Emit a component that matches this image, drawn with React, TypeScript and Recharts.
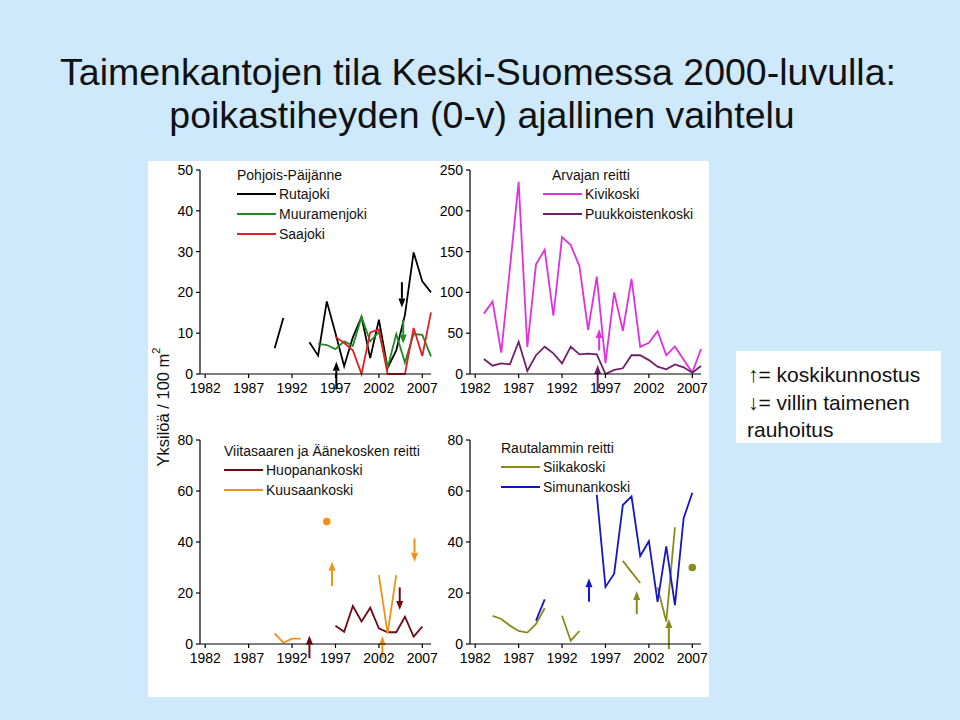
import React from 'react';
import { ComposedChart, Line, XAxis, YAxis, ReferenceLine } from 'recharts';

const FONT = '"Liberation Sans", Arial, Helvetica, sans-serif';

const years = [1982, 1983, 1984, 1985, 1986, 1987, 1988, 1989, 1990, 1991, 1992, 1993, 1994, 1995, 1996, 1997, 1998, 1999, 2000, 2001, 2002, 2003, 2004, 2005, 2006, 2007, 2008];
const yearTicks = [1982, 1987, 1992, 1997, 2002, 2007];

// Pohjois-Päijänne
const rutajoki = [null, null, null, null, null, null, null, null, 6.3, 13.7, null, null, 7.8, 4.5, 17.8, 10, 1.9, 9.0, 14.0, 3.9, 13.3, 1.5, 5.8, 14.5, 29.8, 22.7, 20.0];
const muuramenjoki = [null, null, null, null, null, null, null, null, null, null, null, null, null, 7.4, 7.1, 6.1, 8.0, 6.9, 14.0, 8.0, 10.3, 1.5, 9.8, 2.8, 9.8, 9.6, 4.3];
const saajoki = [null, null, null, null, null, null, null, null, null, null, null, null, null, null, null, 9.1, 7.6, 5.8, 0, 10.2, 10.9, 0, 0, 0, 11.3, 4.4, 15.1];

// Arvajan reitti
const kivikoski = [null, 74, 88.8, 26.3, 130, 235.5, 33, 134.3, 152.3, 71.4, 167.7, 158, 132.3, 54, 119.3, 13.3, 99.8, 53, 116.5, 33.3, 38.2, 52.4, 22.8, 33.8, 17.5, 1.8, 30.6];
const puukkoistenkoski = [null, 18.4, 10.2, 13, 11.8, 39.6, 3.7, 23, 33.5, 25.3, 13, 33.5, 24, 25, 24, 0, 5, 7, 23, 23, 17, 9, 5.7, 11.8, 8.2, 1.6, 9.8];

// Viitasaaren ja Äänekosken reitti
const huopanankoski = [null, null, null, null, null, null, null, null, null, null, null, null, null, null, null, 7.2, 4.8, 14.9, 8.8, 14.2, 6.1, 4.6, 4.6, 10.7, 2.9, 6.8, null];
const kuusaankoski = [null, null, null, null, null, null, null, null, 4.2, 0.5, 2.1, 2.1, null, null, null, null, null, null, null, null, 27, 4.2, 27, null, null, null, null];
const kuusaankoskiSingle = [null, null, null, null, null, null, null, null, null, null, null, null, null, null, 48, null, null, null, null, null, null, null, null, null, null, null, null];

// Rautalammin reitti
const siikakoski = [null, null, 11.0, 9.8, 7.2, 5.1, 4.5, 7.9, 14.0, null, 11.1, 1.3, 5.1, null, null, null, null, 32.6, 28.2, 23.9, null, 22.2, 8.8, 45.8, null, null, null];
const siikakoskiSingle = [null, null, null, null, null, null, null, null, null, null, null, null, null, null, null, null, null, null, null, null, null, null, null, null, null, 30, null];
const simunankoski = [null, null, null, null, null, null, null, 9.2, 17.5, null, null, null, null, null, 58.5, 22.4, 27.6, 54.5, 57.9, 34.5, 40.3, 16.5, 38.3, 15.2, 49.3, 59.3, null];

// Arrows: year, start value, tip value
const arrowsP1 = [
  { year: 1997.1, from: -3.8, to: 3.0, color: '#000000' },
  { year: 2004.65, from: 22.5, to: 16.3, color: '#000000' },
  { year: 2004.8, from: 13.3, to: 7.5, color: '#1e8c1e' },
];
const arrowsP2 = [
  { year: 1996.27, from: 29, to: 55, color: '#e030e0' },
  { year: 1996.1, from: -22, to: 11, color: '#70206a' },
];
const arrowsP3 = [
  { year: 1994.0, from: -5.6, to: 3.3, color: '#700a14' },
  { year: 1996.6, from: 22.7, to: 32.3, color: '#f39019' },
  { year: 2002.4, from: -5.6, to: 3.0, color: '#f39019' },
  { year: 2004.4, from: 22.2, to: 13.3, color: '#700a14' },
  { year: 2006.1, from: 41.4, to: 32.3, color: '#f39019' },
];
const arrowsP4 = [
  { year: 1995.1, from: 16.6, to: 25.8, color: '#1515c8' },
  { year: 2000.6, from: 11.7, to: 20.8, color: '#8a8a1a' },
  { year: 2004.3, from: -2, to: 9.8, color: '#8a8a1a' },
];

const data = years.map((year, i) => ({
  year,
  rutajoki: rutajoki[i],
  muuramenjoki: muuramenjoki[i],
  saajoki: saajoki[i],
  kivikoski: kivikoski[i],
  puukkoistenkoski: puukkoistenkoski[i],
  huopanankoski: huopanankoski[i],
  kuusaankoski: kuusaankoski[i],
  kuusaankoskiSingle: kuusaankoskiSingle[i],
  siikakoski: siikakoski[i],
  siikakoskiSingle: siikakoskiSingle[i],
  simunankoski: simunankoski[i],
}));

const makeArrow = (color: string) => (props: any) => {
  const { x1, y1, x2, y2 } = props;
  if ([x1, y1, x2, y2].some((v) => v == null || Number.isNaN(v))) return <g />;
  const dir = y2 < y1 ? -1 : 1;
  const head = 9;
  const half = 3.5;
  const baseY = y2 - dir * head;
  return (
    <g>
      <line x1={x1} y1={y1} x2={x1} y2={baseY} stroke={color} strokeWidth={2} />
      <path d={`M${x2},${y2} L${x2 - half},${baseY} L${x2 + half},${baseY} Z`} fill={color} />
    </g>
  );
};

type SeriesDef = { key: string; color: string; single?: boolean };
type ArrowDef = { year: number; from: number; to: number; color: string };

const tickStyle = { fill: '#000', fontSize: 14, fontFamily: FONT };

function Panel(props: {
  left: number;
  top: number;
  yMax: number;
  yTicks: number[];
  series: SeriesDef[];
  arrows: ArrowDef[];
}) {
  const { left, top, yMax, yTicks, series, arrows } = props;
  return (
    <div style={{ position: 'absolute', left, top }}>
      <ComposedChart width={290} height={244} data={data} margin={{ top: 10, right: 9, bottom: 0, left: 0 }}>
        <XAxis
          type="number"
          dataKey="year"
          domain={[1981.4, 2008]}
          ticks={yearTicks}
          interval={0}
          tickSize={4}
          tickMargin={5}
          height={30}
          stroke="#000"
          tick={tickStyle}
          axisLine={{ stroke: '#000', strokeWidth: 1.2 }}
          tickLine={{ stroke: '#000', strokeWidth: 1.2 }}
        />
        <YAxis
          type="number"
          domain={[0, yMax]}
          ticks={yTicks}
          interval={0}
          tickSize={4}
          tickMargin={3}
          width={50}
          stroke="#000"
          tick={tickStyle}
          axisLine={{ stroke: '#000', strokeWidth: 1.2 }}
          tickLine={{ stroke: '#000', strokeWidth: 1.2 }}
        />
        {series.map((s) =>
          s.single ? (
            <Line
              key={s.key}
              type="linear"
              dataKey={s.key}
              stroke="none"
              dot={{ r: 3.8, fill: s.color, stroke: 'none' }}
              activeDot={false}
              isAnimationActive={false}
            />
          ) : (
            <Line
              key={s.key}
              type="linear"
              dataKey={s.key}
              stroke={s.color}
              strokeWidth={1.8}
              dot={false}
              activeDot={false}
              connectNulls={false}
              isAnimationActive={false}
            />
          )
        )}
        {arrows.map((a, i) => (
          <ReferenceLine
            key={'a' + i}
            segment={[
              { x: a.year, y: a.from },
              { x: a.year, y: a.to },
            ]}
            ifOverflow="visible"
            stroke={a.color}
            shape={makeArrow(a.color)}
          />
        ))}
      </ComposedChart>
    </div>
  );
}

function LegendBlock(props: { x: number; y: number; title: string; items: { label: string; color: string }[] }) {
  const { x, y, title, items } = props;
  return (
    <g fontFamily={FONT} fontSize={14} fill="#111">
      <text x={x} y={y} dominantBaseline="central">{title}</text>
      {items.map((it, i) => (
        <g key={it.label}>
          <line x1={x} x2={x + 39} y1={y + 19 + i * 20} y2={y + 19 + i * 20} stroke={it.color} strokeWidth={2} />
          <text x={x + 42} y={y + 19 + i * 20} dominantBaseline="central">{it.label}</text>
        </g>
      ))}
    </g>
  );
}

export default function App() {
  return (
    <div style={{ position: 'absolute', left: 0, top: 0, width: 960, height: 720, background: '#cde9fb', overflow: 'hidden' }}>
      <div style={{ position: 'absolute', left: 148, top: 161, width: 561, height: 536, background: '#ffffff' }} />
      <Panel
        left={150}
        top={160}
        yMax={50}
        yTicks={[0, 10, 20, 30, 40, 50]}
        series={[
          { key: 'rutajoki', color: '#000000' },
          { key: 'muuramenjoki', color: '#1e8c1e' },
          { key: 'saajoki', color: '#e31e24' },
        ]}
        arrows={arrowsP1}
      />
      <Panel
        left={420}
        top={160}
        yMax={250}
        yTicks={[0, 50, 100, 150, 200, 250]}
        series={[
          { key: 'kivikoski', color: '#e030e0' },
          { key: 'puukkoistenkoski', color: '#70206a' },
        ]}
        arrows={arrowsP2}
      />
      <Panel
        left={150}
        top={430}
        yMax={80}
        yTicks={[0, 20, 40, 60, 80]}
        series={[
          { key: 'huopanankoski', color: '#700a14' },
          { key: 'kuusaankoski', color: '#f39019' },
          { key: 'kuusaankoskiSingle', color: '#f39019', single: true },
        ]}
        arrows={arrowsP3}
      />
      <Panel
        left={420}
        top={430}
        yMax={80}
        yTicks={[0, 20, 40, 60, 80]}
        series={[
          { key: 'siikakoski', color: '#8a8a1a' },
          { key: 'siikakoskiSingle', color: '#8a8a1a', single: true },
          { key: 'simunankoski', color: '#1515c8' },
        ]}
        arrows={arrowsP4}
      />
      <svg width={960} height={720} style={{ position: 'absolute', left: 0, top: 0, pointerEvents: 'none' }}>
        <text x={478} y={72} textAnchor="middle" dominantBaseline="central" fontFamily={FONT} fontSize={37.5} fill="#111">
          Taimenkantojen tila Keski-Suomessa 2000-luvulla:
        </text>
        <text x={482} y={115} textAnchor="middle" dominantBaseline="central" fontFamily={FONT} fontSize={37.5} fill="#111">
          poikastiheyden (0-v) ajallinen vaihtelu
        </text>
        <text
          x={0}
          y={0}
          transform="translate(163,407) rotate(-90)"
          textAnchor="middle"
          dominantBaseline="central"
          fontFamily={FONT}
          fontSize={16.5}
          fill="#111"
        >
          Yksilöä / 100 m<tspan dy={-7} fontSize={11}>2</tspan>
        </text>
        <LegendBlock
          x={237}
          y={175}
          title="Pohjois-Päijänne"
          items={[
            { label: 'Rutajoki', color: '#000000' },
            { label: 'Muuramenjoki', color: '#1e8c1e' },
            { label: 'Saajoki', color: '#e31e24' },
          ]}
        />
        <LegendBlock
          x={543}
          y={175}
          title=""
          items={[
            { label: 'Kivikoski', color: '#e030e0' },
            { label: 'Puukkoistenkoski', color: '#70206a' },
          ]}
        />
        <text x={552} y={175} dominantBaseline="central" fontFamily={FONT} fontSize={14} fill="#111">Arvajan reitti</text>
        <LegendBlock
          x={224}
          y={451}
          title="Viitasaaren ja Äänekosken reitti"
          items={[
            { label: 'Huopanankoski', color: '#700a14' },
            { label: 'Kuusaankoski', color: '#f39019' },
          ]}
        />
        <LegendBlock
          x={501}
          y={448}
          title="Rautalammin reitti"
          items={[
            { label: 'Siikakoski', color: '#8a8a1a' },
            { label: 'Simunankoski', color: '#1515c8' },
          ]}
        />
        <rect x={736} y={351} width={205} height={92} fill="#ffffff" />
        <g fontFamily={FONT} fontSize={21} fill="#111">
          <text x={748} y={374} dominantBaseline="central">↑= koskikunnostus</text>
          <text x={748} y={402} dominantBaseline="central">↓= villin taimenen</text>
          <text x={747} y={429} dominantBaseline="central">rauhoitus</text>
        </g>
      </svg>
    </div>
  );
}
